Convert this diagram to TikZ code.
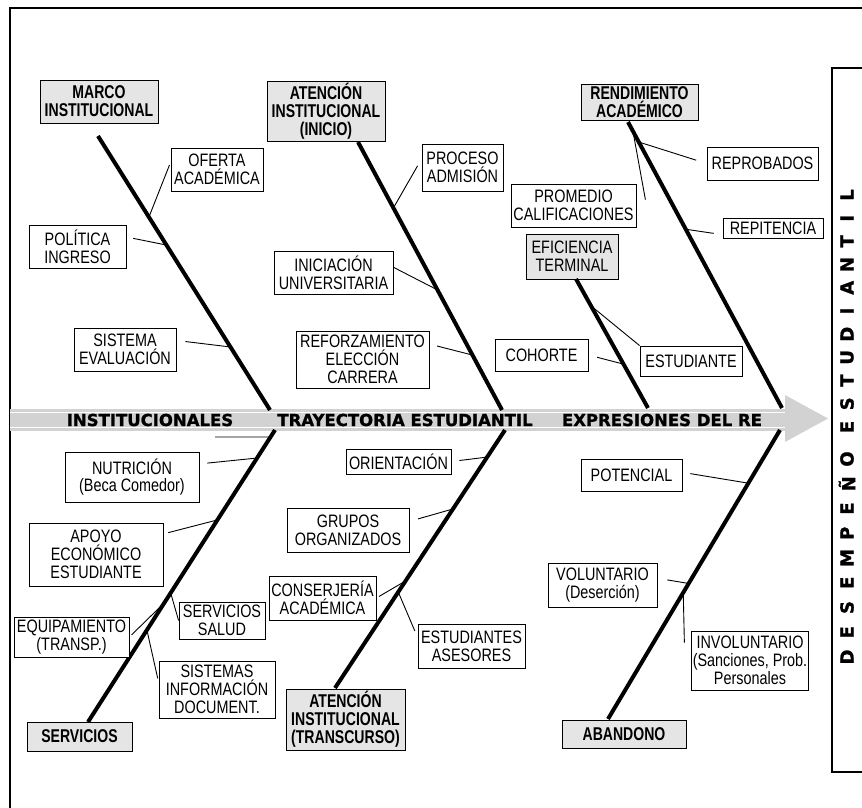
\documentclass[tikz,border=0pt]{standalone}
\usepackage{fontspec}
\setmainfont{Liberation Sans}
\newfontfamily\boxfont[FakeStretch=0.8]{Liberation Sans}
\newfontfamily\headfont[FakeStretch=0.76]{Liberation Sans}
\newfontfamily\spinefont[FakeBold=1.2]{DejaVu Sans}
\usetikzlibrary{calc}

\tikzset{
  caja/.style={draw=black,line width=0.8pt,fill=white,align=center,inner sep=1pt,
    font=\boxfont\fontsize{18}{17.8}\selectfont},
  gris/.style={caja,fill=gray!20},
  titulo/.style={gris,font=\headfont\bfseries\fontsize{18.5}{18}\selectfont},
  espina/.style={line width=4pt},
  enlace/.style={line width=0.9pt},
  letra/.style={rotate=90,inner sep=0pt,font=\spinefont\bfseries\fontsize{18}{18}\selectfont},
  rotulo/.style={inner sep=0pt,font=\spinefont\bfseries\fontsize{16.5}{16.5}\selectfont}
}

\begin{document}
\begin{tikzpicture}[x=1pt,y=-1pt]
  \useasboundingbox (0,0) rectangle (862,808);
  % marco
  \draw[line width=2pt] (862,8) -- (10,8) -- (10,808);
  \draw[line width=2pt] (862,68) -- (832,68) -- (832,772) -- (862,772);

  % espina central
  \fill[gray!35] (10,409) rectangle (785,431);
  \draw[white,line width=1.5pt] (10,412.5) -- (785,412.5);
  \draw[white,line width=1.5pt] (10,427.5) -- (785,427.5);
  \fill[gray!35] (785,395) -- (828,418.5) -- (785,442) -- cycle;
  \node[rotulo] (ri) at (150,420) {INSTITUCIONALES};
  \node[rotulo] (rt) at (405,420) {TRAYECTORIA ESTUDIANTIL};
  \node[rotulo] (rr) at (662,420) {EXPRESIONES DEL RE};

  % cajas principales
  \node[titulo,minimum width=118pt,minimum height=43pt] (mi) at (99,101.5) {MARCO\\INSTITUCIONAL};
  \node[titulo,minimum width=118pt,minimum height=60pt] (ai) at (326,111) {ATENCIÓN\\INSTITUCIONAL\\(INICIO)};
  \node[titulo,minimum width=117pt,minimum height=36pt] (ra) at (639.5,102) {RENDIMIENTO\\ACADÉMICO};
  \node[gris,minimum width=92pt,minimum height=45pt] (et) at (572,256.5) {EFICIENCIA\\TERMINAL};
  \node[titulo,minimum width=105pt,minimum height=29pt] (sv) at (79.5,736.5) {SERVICIOS};
  \node[titulo,minimum width=119pt,minimum height=61pt] (at) at (345.5,719.5) {ATENCIÓN\\INSTITUCIONAL\\(TRANSCURSO)};
  \node[titulo,minimum width=124pt,minimum height=28pt] (ab) at (624,734) {ABANDONO};

  % espinas
  \coordinate (t1) at (98,136);   \coordinate (s1) at (270,410);
  \coordinate (u1) at (275,430);  \coordinate (b1) at (88,722);
  \coordinate (t2) at (358,142);  \coordinate (s2) at (502,410);
  \coordinate (u2) at (505,430);  \coordinate (b2) at (335,688);
  \coordinate (t3) at (576,279);  \coordinate (s3) at (648,408);
  \coordinate (t4) at (628,122);  \coordinate (s4) at (782,408);
  \coordinate (u4) at (780,430);  \coordinate (b4) at (608,719);
  \draw[espina] (t1) -- (s1);
  \draw[espina] (u1) -- (b1);
  \draw[espina] (t2) -- (s2);
  \draw[espina] (u2) -- (b2);
  \draw[espina] (t3) -- (s3);
  \draw[espina] (t4) -- (s4);
  \draw[espina] (u4) -- (b4);

  % causas arriba
  \node[caja,minimum width=92pt,minimum height=43pt] (oa) at (217,169.5) {OFERTA\\ACADÉMICA};
  \node[caja,minimum width=97pt,minimum height=43pt] (pi) at (77.5,246.5) {POLÍTICA\\INGRESO};
  \node[caja,minimum width=102pt,minimum height=43pt] (se) at (125,349.5) {SISTEMA\\EVALUACIÓN};
  \node[caja,minimum width=81pt,minimum height=47pt] (pa) at (462.5,167.5) {PROCESO\\ADMISIÓN};
  \node[caja,minimum width=119pt,minimum height=43pt] (iu) at (333.5,272.5) {INICIACIÓN\\UNIVERSITARIA};
  \node[caja,minimum width=133pt,minimum height=57pt] (rc) at (362.5,359.5) {REFORZAMIENTO\\ELECCIÓN\\CARRERA};
  \node[caja,minimum width=125pt,minimum height=43pt] (pc) at (573.5,205.5) {PROMEDIO\\CALIFICACIONES};
  \node[caja,minimum width=93pt,minimum height=32pt] (co) at (541.5,355) {COHORTE};
  \node[caja,minimum width=111pt,minimum height=33pt] (rp) at (762.5,163.5) {REPROBADOS};
  \node[caja,minimum width=100pt,minimum height=20pt] (re) at (773,228.5) {REPITENCIA};
  \node[caja,minimum width=102pt,minimum height=30pt] (es) at (691,361) {ESTUDIANTE};

  % causas abajo
  \node[caja,minimum width=134pt,minimum height=50pt] (nu) at (132,477) {NUTRICIÓN\\(Beca Comedor)};
  \node[caja,minimum width=134pt,minimum height=63pt] (ae) at (96,554.5) {APOYO\\ECONÓMICO\\ESTUDIANTE};
  \node[caja,minimum width=86pt,minimum height=37pt] (ss) at (222,620.5) {SERVICIOS\\SALUD};
  \node[caja,minimum width=115pt,minimum height=40pt] (eq) at (71.5,637) {EQUIPAMIENTO\\(TRANSP.)};
  \node[caja,minimum width=116pt,minimum height=57pt] (si) at (217,689.5) {SISTEMAS\\INFORMACIÓN\\DOCUMENT.};
  \node[caja,minimum width=105pt,minimum height=25pt] (or) at (398.5,461.5) {ORIENTACIÓN};
  \node[caja,minimum width=122pt,minimum height=44pt] (go) at (348,530) {GRUPOS\\ORGANIZADOS};
  \node[caja,minimum width=107pt,minimum height=44pt] (ca) at (322.5,598) {CONSERJERÍA\\ACADÉMICA};
  \node[caja,minimum width=107pt,minimum height=44pt] (ea) at (471.5,646) {ESTUDIANTES\\ASESORES};
  \node[caja,minimum width=101pt,minimum height=32pt] (po) at (631.5,475) {POTENCIAL};
  \node[caja,minimum width=109pt,minimum height=44pt] (vo) at (602.5,585) {VOLUNTARIO\\(Deserción)};
  \node[caja,minimum width=116pt,minimum height=59pt] (in) at (750,660.5) {INVOLUNTARIO\\(Sanciones, Prob.\\Personales};

  % enlaces
  \draw[enlace,shorten <=3pt] (oa.171) -- ($(t1)!0.296!(s1)$);
  \draw[enlace,shorten <=7pt] (pi.11) -- ($(t1)!0.398!(s1)$);
  \draw[enlace,shorten <=9pt] (se.10) -- ($(t1)!0.77!(s1)$);
  \draw[enlace,shorten <=8pt] (pa.168) -- ($(t2)!0.246!(s2)$);
  \draw[enlace] (iu.5) -- ($(t2)!0.552!(s2)$);
  \draw[enlace,shorten <=8pt] (rc.13) -- ($(t2)!0.795!(s2)$);
  \draw[enlace] ([shift={(9,16)}]pc.north east) -- ($(t4)!0.032!(s4)$);
  \draw[enlace,shorten <=11pt] (rp.west) -- ($(t4)!0.07!(s4)$);
  \draw[enlace,shorten <=9pt] (re.187) -- ($(t4)!0.375!(s4)$);
  \draw[enlace] (es.north west) -- ($(t3)!0.208!(s3)$);
  \draw[enlace,shorten <=9pt] (co.east) -- ($(t3)!0.66!(s3)$);
  \coordinate (h0) at (215,437);
  \draw[enlace] (h0) -- ($(u1)!0.024!(b1)$);
  \draw[enlace,shorten <=8pt] (nu.11) -- ($(u1)!0.096!(b1)$);
  \draw[enlace,shorten <=5pt] (ae.17) -- ($(u1)!0.308!(b1)$);
  \draw[enlace] (ss.west) -- ($(u1)!0.558!(b1)$);
  \draw[enlace,shorten <=3pt] (eq.east) -- ($(u1)!0.592!(b1)$);
  \draw[enlace,shorten <=4pt] (si.173) -- ($(u1)!0.685!(b1)$);
  \draw[enlace,shorten <=8pt] (or.east) -- ($(u2)!0.105!(b2)$);
  \draw[enlace,shorten <=9pt] (go.8) -- ($(u2)!0.306!(b2)$);
  \draw[enlace,shorten <=3pt] (ca.east) -- ($(u2)!0.585!(b2)$);
  \draw[enlace,shorten <=7pt] (ea.171) -- ($(u2)!0.628!(b2)$);
  \draw[enlace,shorten <=8pt] (po.3) -- ($(u4)!0.184!(b4)$);
  \draw[enlace,shorten <=10pt] (vo.7) -- ($(u4)!0.531!(b4)$);
  \draw[enlace] ([shift={(-7,12)}]in.north west) -- ($(u4)!0.5625!(b4)$);

  % rotulo vertical
  \foreach \l [count=\i] in {D,E,S,E,M,P,E,Ñ,O}
    \node[letra] (d\i) at (847,{657-24.75*(\i-1)}) {\l};
  \foreach \l [count=\i] in {E,S,T,U,D,I,A,N,T,I,L}
    \node[letra] (e\i) at (847,{427-23.2*(\i-1)}) {\l};
\end{tikzpicture}
\end{document}
